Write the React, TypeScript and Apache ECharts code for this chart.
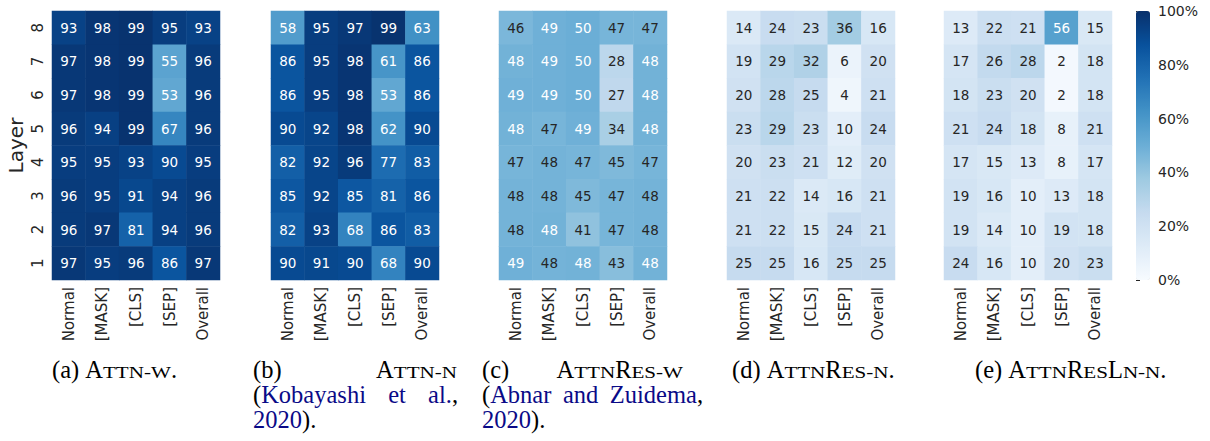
import React, { useEffect, useRef } from "react";
import * as echarts from "echarts";

// ---------- data ----------
const tokens = ["Normal", "[MASK]", "[CLS]", "[SEP]", "Overall"];
const layers = ["1", "2", "3", "4", "5", "6", "7", "8"];

// rows listed from layer 8 (top) down to layer 1 (bottom), columns follow `tokens`
const attnW = [
  [93, 98, 99, 95, 93],
  [97, 98, 99, 55, 96],
  [97, 98, 99, 53, 96],
  [96, 94, 99, 67, 96],
  [95, 95, 93, 90, 95],
  [96, 95, 91, 94, 96],
  [96, 97, 81, 94, 96],
  [97, 95, 96, 86, 97],
];
const attnN = [
  [58, 95, 97, 99, 63],
  [86, 95, 98, 61, 86],
  [86, 95, 98, 53, 86],
  [90, 92, 98, 62, 90],
  [82, 92, 96, 77, 83],
  [85, 92, 85, 81, 86],
  [82, 93, 68, 86, 83],
  [90, 91, 90, 68, 90],
];
const attnResW = [
  [46, 49, 50, 47, 47],
  [48.3, 49, 50, 28, 48.3],
  [49, 49, 50, 27, 48.3],
  [48.3, 47, 49, 34, 48.3],
  [47, 47.7, 47, 45, 47],
  [47.7, 47.7, 45, 47, 47.7],
  [47.7, 48.3, 41, 47, 47.7],
  [49, 47.7, 48.3, 43, 48.3],
];
const attnResN = [
  [14, 24, 23, 36, 16],
  [19, 29, 32, 6, 20],
  [20, 28, 25, 4, 21],
  [23, 29, 23, 10, 24],
  [20, 23, 21, 12, 20],
  [21, 22, 14, 16, 21],
  [21, 22, 15, 24, 21],
  [25, 25, 16, 25, 25],
];
const attnResLnN = [
  [13, 22, 21, 56, 15],
  [17, 26, 28, 2, 18],
  [18, 23, 20, 2, 18],
  [21, 24, 18, 8, 21],
  [17, 15, 13, 8, 17],
  [19, 16, 10, 13, 18],
  [19, 14, 10, 19, 18],
  [24, 16, 10, 20, 23],
];
const panels = [attnW, attnN, attnResW, attnResN, attnResLnN];

const colorbarMin = 0;
const colorbarMax = 100;
const colorbarStep = 20;

type Frag = { t: string; sc?: boolean; link?: boolean };
// captions: lines -> words -> fragments
const captionTexts: Frag[][][][] = [
  [[[{ t: "(a)" }], [{ t: "A" }, { t: "TTN-W", sc: true }, { t: "." }]]],
  [
    [[{ t: "(b)" }], [{ t: "A" }, { t: "TTN-N", sc: true }]],
    [[{ t: "(" }, { t: "Kobayashi", link: true }], [{ t: "et", link: true }], [{ t: "al.", link: true }, { t: "," }]],
    [[{ t: "2020", link: true }, { t: ")." }]],
  ],
  [
    [[{ t: "(c)" }], [{ t: "A" }, { t: "TTN", sc: true }, { t: "R" }, { t: "ES-W", sc: true }]],
    [[{ t: "(" }, { t: "Abnar", link: true }], [{ t: "and", link: true }], [{ t: "Zuidema", link: true }, { t: "," }]],
    [[{ t: "2020", link: true }, { t: ")." }]],
  ],
  [[[{ t: "(d)" }], [{ t: "A" }, { t: "TTN", sc: true }, { t: "R" }, { t: "ES-N", sc: true }, { t: "." }]]],
  [[[{ t: "(e)" }], [{ t: "A" }, { t: "TTN", sc: true }, { t: "R" }, { t: "ES", sc: true }, { t: "L" }, { t: "N-N", sc: true }, { t: "." }]]],
];

// ---------- layout / style ----------
const BLUES = ["#f7fbff", "#deebf7", "#c6dbef", "#9ecae1", "#6baed6", "#4292c6", "#2171b5", "#08519c", "#08306b"];
const SANS = "DejaVu Sans";
const SERIF = '"Liberation Serif"';
const TXT = "#262626";
const LINK = "#0a0a87";
const PANEL_LEFT = [52, 271, 499, 727, 944];
const PANEL_W = 168;
const GRID_TOP = 11;
const GRID_H = 269;
const BIG = 24.5;
const SC = 17;
const SC_SCALE = 1.24;
// caption line placement: x0, optional justify-end per line
const captionPlace = [
  { x0: 52, ends: [null] },
  { x0: 253, ends: [457, 458, null] },
  { x0: 482, ends: [683, 703, null] },
  { x0: 732, ends: [null] },
  { x0: 975, ends: [null] },
];
const BASELINES = [378, 403, 428];

function buildCaptions() {
  const cvs = document.createElement("canvas");
  const ctx = cvs.getContext("2d")!;
  const mw = (t: string, size: number) => {
    ctx.font = `${size}px ${SERIF}`;
    return ctx.measureText(t).width;
  };
  const fw = (f: Frag) => (f.sc ? mw(f.t, SC) * SC_SCALE : mw(f.t, BIG));
  const els: any[] = [];
  captionTexts.forEach((lines, ci) => {
    const place = captionPlace[ci];
    lines.forEach((words, li) => {
      const wordW = words.map((ws) => ws.reduce((s, f) => s + fw(f), 0));
      const total = wordW.reduce((a, b) => a + b, 0);
      const end = place.ends[li];
      const gap = end != null && words.length > 1 ? (end - place.x0 - total) / (words.length - 1) : mw(" ", BIG);
      let x = place.x0;
      const base = BASELINES[li];
      words.forEach((ws) => {
        ws.forEach((f) => {
          const size = f.sc ? SC : BIG;
          els.push({
            type: "text",
            x,
            y: base - 0.3375 * size,
            scaleX: f.sc ? SC_SCALE : 1,
            silent: true,
            style: {
              text: f.t,
              font: `${size}px ${SERIF}`,
              fill: f.link ? LINK : "#000000",
              textAlign: "left",
              textVerticalAlign: "middle",
            },
          });
          x += fw(f);
        });
        x += gap;
      });
    });
  });
  return els;
}

export default function App() {
  const ref = useRef<HTMLDivElement>(null);
  useEffect(() => {
    if (!ref.current) return;
    const chart = echarts.init(ref.current, null, { renderer: "svg" });
    const grids: any[] = PANEL_LEFT.map((l) => ({ left: l, top: GRID_TOP, width: PANEL_W, height: GRID_H }));
    grids.push({ left: 1136, top: GRID_TOP, width: 14, height: GRID_H });

    const xAxes: any[] = panels.map((_, i) => ({
      type: "category",
      gridIndex: i,
      data: tokens,
      axisLine: { show: false },
      axisTick: { show: false },
      splitArea: { show: false },
      axisLabel: { rotate: 90, margin: 7, interval: 0, fontSize: 15, fontFamily: SANS, color: TXT },
    }));
    xAxes.push({ type: "value", gridIndex: 5, show: false, min: 0, max: 1 });

    const yAxes: any[] = panels.map((_, i) => ({
      type: "category",
      gridIndex: i,
      data: layers,
      axisLine: { show: false },
      axisTick: { show: false },
      splitArea: { show: false },
      axisLabel: { show: i === 0, rotate: 90, margin: 7, fontSize: 15, fontFamily: SANS, color: TXT },
      name: i === 0 ? "Layer" : "",
      nameLocation: "middle",
      nameGap: 26,
      nameTextStyle: { fontSize: 20, fontFamily: SANS, color: TXT },
    }));
    yAxes.push({
      type: "value",
      gridIndex: 5,
      position: "right",
      min: colorbarMin,
      max: colorbarMax,
      interval: colorbarStep,
      axisLine: { show: false },
      axisTick: { show: true, length: 4, lineStyle: { color: TXT, width: 1 } },
      splitLine: { show: false },
      axisLabel: { margin: 8, fontSize: 14, fontFamily: SANS, color: TXT, formatter: (v: number) => `${v}%` },
    });

    const series: any[] = panels.map((rows, i) => ({
      type: "heatmap",
      xAxisIndex: i,
      yAxisIndex: i,
      data: rows.flatMap((row, r) =>
        row.map((v, c) => ({
          value: [c, layers.length - 1 - r, v],
          label: { color: v >= 48 ? "#ffffff" : TXT },
        }))
      ),
      label: {
        show: true,
        fontSize: 13.5,
        fontFamily: SANS,
        formatter: (p: any) => String(Math.round(p.value[2])),
      },
      itemStyle: { borderWidth: 0 },
      emphasis: { disabled: true },
    }));
    series.push({ type: "scatter", xAxisIndex: 5, yAxisIndex: 5, data: [], silent: true });

    chart.setOption({
      animation: false,
      backgroundColor: "#ffffff",
      grid: grids,
      xAxis: xAxes,
      yAxis: yAxes,
      visualMap: {
        type: "continuous",
        min: colorbarMin,
        max: colorbarMax,
        seriesIndex: [0, 1, 2, 3, 4],
        orient: "vertical",
        left: 1136,
        top: GRID_TOP,
        itemWidth: 14,
        itemHeight: GRID_H,
        padding: 0,
        calculable: false,
        hoverLink: false,
        inRange: { color: BLUES },
      },
      series,
      graphic: { elements: buildCaptions() },
    });
    return () => chart.dispose();
  }, []);
  return <div ref={ref} style={{ position: "absolute", left: 0, top: 0, width: 1210, height: 441 }} />;
}
